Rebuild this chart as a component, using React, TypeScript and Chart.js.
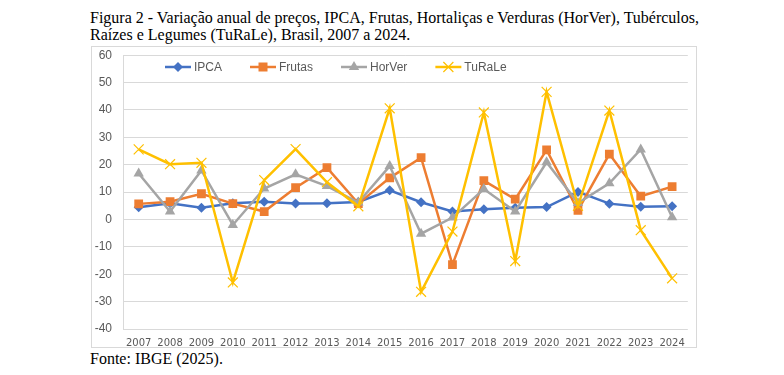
import React, { useEffect, useRef } from "react";
import { Chart, registerables } from "chart.js";
Chart.register(...registerables);

const years = ["2007","2008","2009","2010","2011","2012","2013","2014","2015","2016","2017","2018","2019","2020","2021","2022","2023","2024"];
const ipca = [4.46, 5.9, 4.31, 5.91, 6.5, 5.84, 5.91, 6.41, 10.67, 6.29, 2.95, 3.75, 4.31, 4.52, 10.06, 5.79, 4.62, 4.83];
const frutas = [5.7, 6.5, 9.4, 5.8, 2.9, 11.6, 18.9, 5.8, 15.2, 22.6, -16.5, 14.2, 7.4, 25.4, 3.3, 23.9, 8.5, 12.0];
const horver = [16.8, 2.9, 17.9, -2.0, 11.3, 16.5, 12.2, 6.2, 19.5, -5.2, 0.7, 11.1, 2.9, 20.9, 6.0, 13.2, 25.6, 0.8];
const turale = [25.6, 20.2, 20.7, -23.0, 14.4, 25.7, 13.6, 4.8, 40.6, -26.4, -4.4, 39.1, -15.2, 46.6, 5.0, 39.8, -3.9, -21.5];
const yTicksMin = -40;
const yTicksMax = 60;
const yStep = 10;

const seriesNames = ["IPCA", "Frutas", "HorVer", "TuRaLe"];
const seriesColors = ["#4472C4", "#ED7D31", "#A5A5A5", "#FFC000"];
const seriesMarkers = ["rectRot", "rect", "triangle", "crossRot"];

function drawMarker(ctx: CanvasRenderingContext2D, kind: string, x: number, y: number, color: string) {
  ctx.save();
  ctx.fillStyle = color;
  ctx.strokeStyle = color;
  ctx.beginPath();
  if (kind === "rectRot") {
    const r = 5;
    ctx.moveTo(x, y - r); ctx.lineTo(x + r, y); ctx.lineTo(x, y + r); ctx.lineTo(x - r, y); ctx.closePath(); ctx.fill();
  } else if (kind === "rect") {
    const s = 4.5;
    ctx.rect(x - s, y - s, 2 * s, 2 * s); ctx.fill();
  } else if (kind === "triangle") {
    const r = 6;
    ctx.moveTo(x, y - r); ctx.lineTo(x + r * 0.866, y + r * 0.5); ctx.lineTo(x - r * 0.866, y + r * 0.5); ctx.closePath(); ctx.fill();
  } else {
    const r = 5;
    ctx.lineWidth = 1.2;
    ctx.moveTo(x - r, y - r); ctx.lineTo(x + r, y + r); ctx.moveTo(x + r, y - r); ctx.lineTo(x - r, y + r); ctx.stroke();
  }
  ctx.restore();
}

const legendPlugin = {
  id: "customLegend",
  afterDraw(chart: any) {
    const ctx: CanvasRenderingContext2D = chart.ctx;
    ctx.save();
    ctx.font = '12px "Liberation Sans", Arial, sans-serif';
    ctx.textBaseline = "middle";
    let x = 73;
    const y = 20;
    for (let i = 0; i < seriesNames.length; i++) {
      const c = seriesColors[i];
      ctx.strokeStyle = c;
      ctx.lineWidth = 2.5;
      ctx.beginPath();
      ctx.moveTo(x, y);
      ctx.lineTo(x + 26, y);
      ctx.stroke();
      drawMarker(ctx, seriesMarkers[i], x + 13, y, c);
      ctx.fillStyle = "#595959";
      ctx.fillText(seriesNames[i], x + 29, y + 1);
      x += 29 + ctx.measureText(seriesNames[i]).width + 28;
    }
    ctx.restore();
  },
};

export default function App() {
  const ref = useRef<HTMLCanvasElement | null>(null);
  useEffect(() => {
    if (!ref.current) return;
    const dataArrays = [ipca, frutas, horver, turale];
    const chart = new Chart(ref.current, {
      type: "line",
      data: {
        labels: years,
        datasets: dataArrays.map((d, i) => ({
          label: seriesNames[i],
          data: d,
          borderColor: seriesColors[i],
          backgroundColor: seriesColors[i],
          borderWidth: 2.5,
          tension: 0,
          pointStyle: seriesMarkers[i] as any,
          pointRadius: i === 0 ? 5 : i === 1 ? 6.2 : i === 2 ? 6 : 7,
          pointBorderWidth: i === 3 ? 1.2 : 0,
          pointBorderColor: seriesColors[i],
          pointBackgroundColor: seriesColors[i],
          order: 4 - i,
        })),
      },
      options: {
        animation: false,
        responsive: true,
        maintainAspectRatio: false,
        layout: { padding: { top: 5, right: 4, left: 0, bottom: 0 } },
        plugins: { legend: { display: false }, tooltip: { enabled: false }, title: { display: false } },
        scales: {
          x: {
            offset: true,
            grid: { display: false },
            border: { display: false },
            ticks: {
              color: "#595959",
              font: { family: '"DejaVu Sans", sans-serif', size: 10 },
              padding: 0,
              maxRotation: 0,
              autoSkip: false,
            },
            afterFit(s: any) { s.height = 18; s.paddingLeft = 0; s.paddingRight = 0; },
          },
          y: {
            min: yTicksMin,
            max: yTicksMax,
            ticks: {
              stepSize: yStep,
              color: "#595959",
              font: { family: '"Liberation Sans", Arial, sans-serif', size: 12 },
              padding: 11,
            },
            grid: { color: "#d9d9d9", drawTicks: false, lineWidth: 1 },
            border: { display: true, color: "#d9d9d9" },
            afterFit(s: any) { s.width = 31; s.paddingTop = 0; s.paddingBottom = 0; },
          },
        },
      },
      plugins: [legendPlugin],
    } as any);
    return () => chart.destroy();
  }, []);

  return (
    <div style={{ position: "absolute", left: 0, top: 0, width: 784, height: 375, background: "#fff" }}>
      <div style={{ position: "absolute", left: 90, top: 9, fontFamily: '"Liberation Serif", "Times New Roman", serif', fontSize: 16, lineHeight: "17px", color: "#000", whiteSpace: "nowrap" }}>
        Figura 2 - Variação anual de preços, IPCA, Frutas, Hortaliças e Verduras (HorVer), Tubérculos,
        <br />
        Raízes e Legumes (TuRaLe), Brasil, 2007 a 2024.
      </div>
      <div style={{ position: "absolute", left: 91, top: 46, width: 604, height: 300, border: "1px solid #d9d9d9" }}>
        <canvas ref={ref} style={{ display: "block" }} />
      </div>
      <div style={{ position: "absolute", left: 90, top: 350, fontFamily: '"Liberation Serif", "Times New Roman", serif', fontSize: 16, lineHeight: "17px", color: "#000", whiteSpace: "nowrap" }}>
        Fonte: IBGE (2025).
      </div>
    </div>
  );
}
